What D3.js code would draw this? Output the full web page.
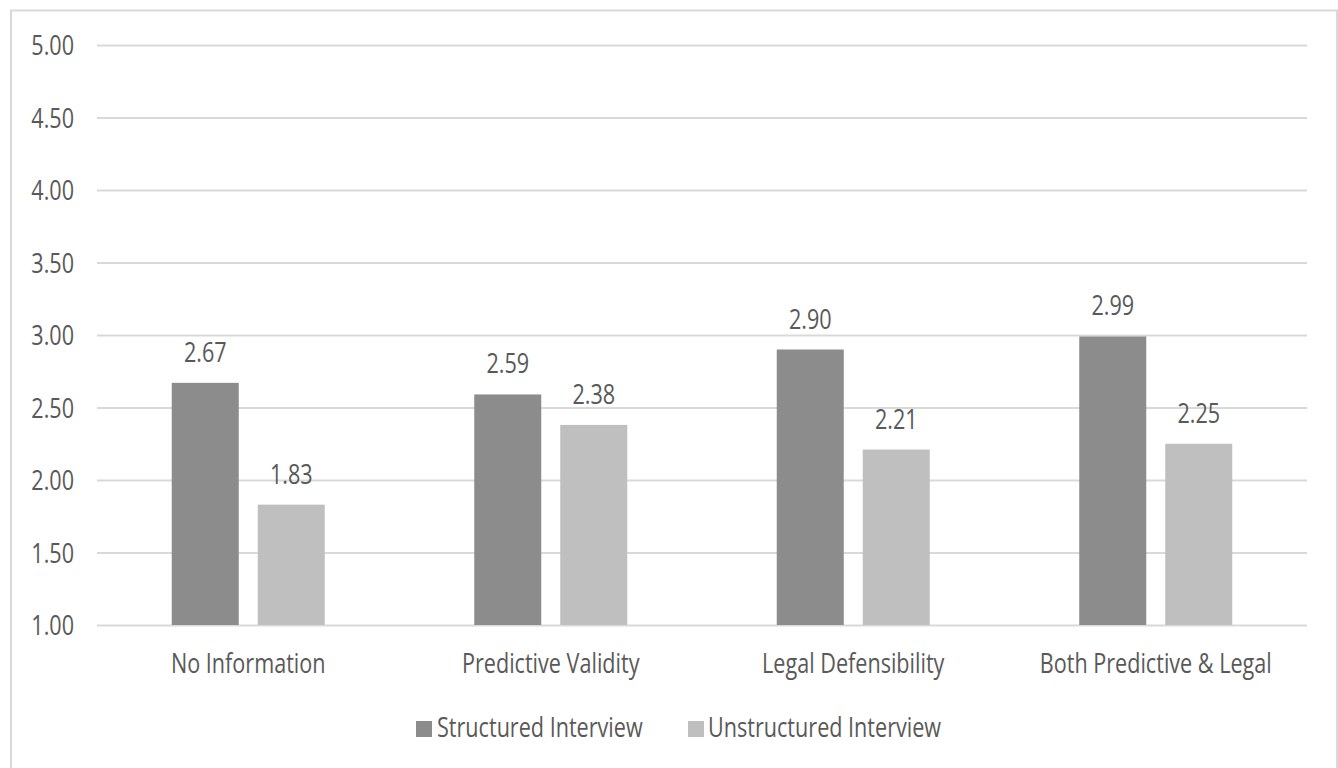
<!DOCTYPE html>
<html>
<head>
<meta charset="utf-8">
<script src="https://cdn.jsdelivr.net/npm/d3@7"></script>
<style>
  html, body { margin: 0; padding: 0; background: #fff; }
  svg { display: block; }
  text { font-family: "Open Sans", sans-serif; fill: #595959; }
</style>
</head>
<body>
<svg id="chart" width="1338" height="768"></svg>
<script>
const categories = ["No Information", "Predictive Validity", "Legal Defensibility", "Both Predictive & Legal"];
const seriesNames = ["Structured Interview", "Unstructured Interview"];
const structured = [2.67, 2.59, 2.90, 2.99];
const unstructured = [1.83, 2.38, 2.21, 2.25];
const yTicks = [1.00, 1.50, 2.00, 2.50, 3.00, 3.50, 4.00, 4.50, 5.00];
const colors = ["#8c8c8c", "#bfbfbf"];

const SX = 0.8; // horizontal compression of the text
const FS = 27;

const svg = d3.select("#chart");

// outer frame
svg.append("rect")
  .attr("x", 11).attr("y", 10.5)
  .attr("width", 1326).attr("height", 780)
  .attr("fill", "none").attr("stroke", "#d9d9d9").attr("stroke-width", 2);

const mLeft = 97, mRight = 1307, mTop = 45, mBottom = 625;

const y = d3.scaleLinear().domain([1, 5]).range([mBottom, mTop]);
const x0 = d3.scaleBand().domain(categories).range([mLeft, mRight]).padding(0);
const bw = x0.bandwidth();
const x1 = d3.scaleBand().domain(seriesNames)
  .range([bw / 2 - 76.5, bw / 2 + 76.5]).paddingInner(19 / 86).paddingOuter(0);

// y axis with gridlines
const yAxis = svg.append("g")
  .attr("transform", `translate(${mLeft},0)`)
  .call(d3.axisLeft(y).tickValues(yTicks).tickFormat(d3.format(".2f"))
    .tickSize(-(mRight - mLeft)).tickPadding(0));
yAxis.select(".domain").remove();
yAxis.selectAll(".tick line").attr("stroke", "#d9d9d9").attr("stroke-width", 2);
yAxis.selectAll(".tick text")
  .attr("x", -23 / SX)
  .attr("dy", "0.36em")
  .attr("transform", `scale(${SX},1)`)
  .style("font-size", FS + "px")
  .style("font-family", "'Open Sans', sans-serif")
  .attr("fill", "#595959");

// bars
const data = categories.map((c, i) => ({ cat: c, vals: [structured[i], unstructured[i]] }));
const groups = svg.append("g").selectAll("g").data(data).join("g")
  .attr("transform", d => `translate(${x0(d.cat)},0)`);

groups.selectAll("rect").data(d => d.vals.map((v, j) => ({ s: seriesNames[j], v, j })))
  .join("rect")
  .attr("x", d => x1(d.s))
  .attr("y", d => y(d.v))
  .attr("width", x1.bandwidth())
  .attr("height", d => y(1) - y(d.v))
  .attr("fill", d => colors[d.j]);

// data labels
groups.selectAll("text.lbl").data(d => d.vals.map((v, j) => ({ s: seriesNames[j], v, j })))
  .join("text").attr("class", "lbl")
  .attr("transform", d => `translate(${x1(d.s) + x1.bandwidth() / 2},${y(d.v) - 21}) scale(${SX},1)`)
  .attr("text-anchor", "middle")
  .style("font-size", FS + "px")
  .text(d => d.v.toFixed(2));

// category labels
const xAxis = svg.append("g")
  .attr("transform", `translate(0,${mBottom})`)
  .call(d3.axisBottom(x0).tickSize(0).tickPadding(0));
xAxis.select(".domain").remove();
xAxis.selectAll(".tick text")
  .attr("y", 0).attr("dy", 0)
  .attr("transform", `translate(0,48) scale(${SX},1)`)
  .style("font-size", FS + "px")
  .style("font-family", "'Open Sans', sans-serif")
  .attr("fill", "#595959");

// legend
const legendItems = [
  { name: seriesNames[0], sq: 416, tx: 437 },
  { name: seriesNames[1], sq: 688, tx: 708 }
];
const lg = svg.append("g");
legendItems.forEach((it, i) => {
  lg.append("rect").attr("x", it.sq).attr("y", 721).attr("width", 16).attr("height", 16).attr("fill", colors[i]);
  lg.append("text")
    .attr("transform", `translate(${it.tx},737) scale(${SX},1)`)
    .style("font-size", FS + "px")
    .text(it.name);
});
</script>
</body>
</html>
